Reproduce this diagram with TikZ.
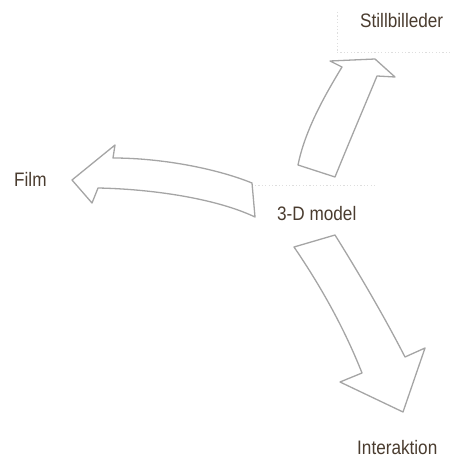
\documentclass[tikz,border=0pt]{standalone}
\usepackage{fontspec}
\setmainfont{Liberation Sans}[FakeStretch=0.88]
\definecolor{txtbrown}{RGB}{74,60,47}
\definecolor{arrowgray}{RGB}{165,165,165}
\definecolor{guidegray}{RGB}{222,222,222}
\begin{document}
\begin{tikzpicture}[x=1pt,y=-1pt,
  lbl/.style={anchor=base west,inner sep=0pt,text=txtbrown,font=\fontsize{19.5}{22}\selectfont},
  bigarrow/.style={draw=arrowgray,fill=white,line width=1.3pt,line join=round},
  guide/.style={draw=guidegray,line width=0.8pt,dash pattern=on 1.2pt off 2.2pt}]
\useasboundingbox (0,0) rectangle (454,457);
% faint guide lines
\draw[guide] (255,185) -- (375,185);
\draw[guide] (337,12) -- (337,52);
\draw[guide] (337,52) -- (450,52);
% upper arrow (to Stillbilleder)
\path[bigarrow] (298,165) -- (335,177)
  .. controls (350,140) and (365,105) .. (377,76)
  -- (395,77) -- (375,59) -- (330,61) -- (342,67)
  .. controls (325,95) and (305,130) .. cycle;
% left arrow (to Film)
\path[bigarrow] (252,183)
  .. controls (215,168) and (160,158) .. (113,158)
  -- (115,145) -- (72,180) -- (92,203) -- (98,188)
  .. controls (150,189) and (215,198) .. (255,217) -- cycle;
% lower arrow (to Interaktion)
\path[bigarrow] (294,247) -- (335,235)
  .. controls (360,275) and (385,318) .. (405,357)
  -- (425,348) -- (403,412) -- (340,382) -- (362,373)
  .. controls (345,330) and (322,288) .. cycle;
% labels
\node[lbl] (still) at (360,28) {Stillbilleder};
\node[lbl] (film) at (14,186) {Film};
\node[lbl] (model) at (277,220) {3-D model};
\node[lbl] (inter) at (357,454) {Interaktion};
\end{tikzpicture}
\end{document}
